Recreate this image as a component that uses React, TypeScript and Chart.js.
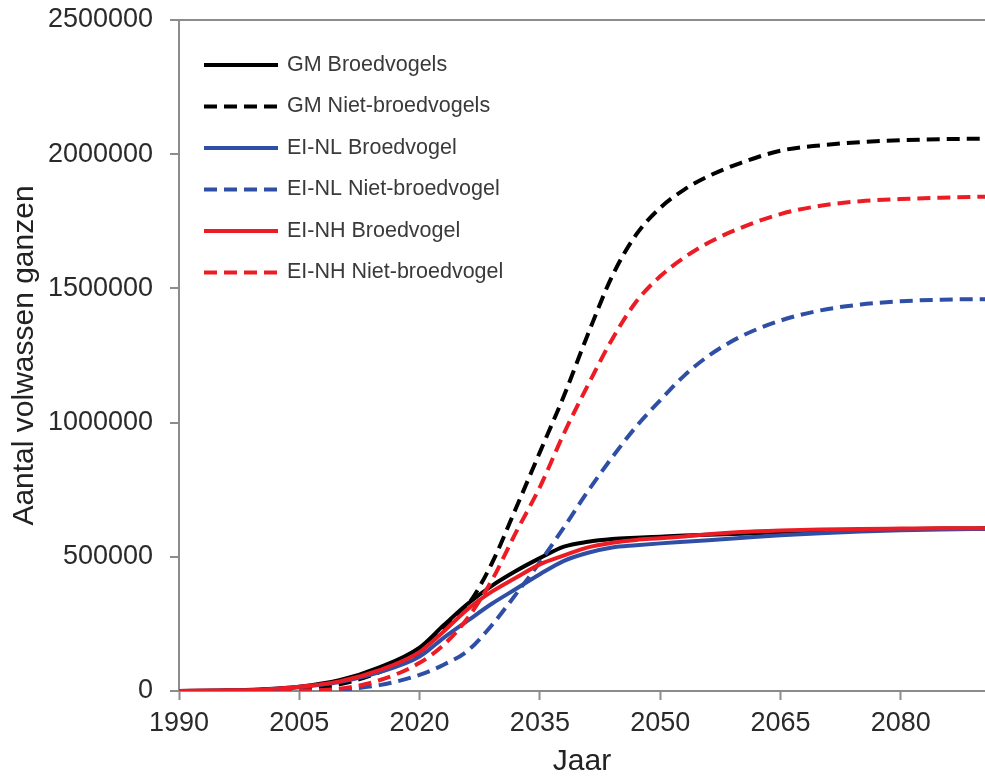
import React, { useEffect, useRef } from "react";
import { Chart, registerables } from "chart.js";

Chart.register(...registerables);

// Years at which the population model values are given
const YEARS = [1990, 1995, 2000, 2005, 2010, 2015, 2020, 2023, 2026, 2029, 2032, 2035, 2038, 2041, 2044, 2047, 2050, 2053, 2056, 2060, 2065, 2070, 2075, 2080, 2085, 2091];

// Number of adult geese per scenario
const GM_BROED = [0, 2000, 6000, 16000, 40000, 88000, 162000, 245000, 325000, 392000, 447000, 495000, 538000, 556000, 566000, 571000, 575000, 579000, 582000, 586000, 591000, 596000, 600000, 603000, 605000, 606000];
const GM_NIET = [0, 0, 2000, 8000, 25000, 70000, 145000, 235000, 320000, 475000, 680000, 890000, 1100000, 1330000, 1545000, 1700000, 1800000, 1868000, 1918000, 1967000, 2013000, 2033000, 2045000, 2052000, 2056000, 2058000];
const NL_BROED = [0, 1000, 4000, 14000, 33000, 70000, 128000, 198000, 262000, 325000, 380000, 435000, 485000, 515000, 535000, 543000, 550000, 556000, 562000, 570000, 580000, 588000, 594000, 599000, 602000, 604000];
const NL_NIET = [0, 0, 0, 0, 5000, 22000, 60000, 98000, 150000, 245000, 360000, 480000, 610000, 745000, 870000, 985000, 1083000, 1175000, 1248000, 1320000, 1380000, 1418000, 1440000, 1452000, 1458000, 1460000];
const NH_BROED = [0, 2000, 5000, 16000, 36000, 78000, 145000, 222000, 305000, 370000, 422000, 472000, 505000, 535000, 552000, 563000, 569000, 576000, 584000, 592000, 598000, 602000, 604000, 605000, 606000, 606000];
const NH_NIET = [0, 0, 0, 2000, 8000, 40000, 105000, 172000, 272000, 412000, 590000, 760000, 960000, 1140000, 1310000, 1450000, 1545000, 1615000, 1670000, 1725000, 1777000, 1808000, 1825000, 1833000, 1838000, 1842000];

const SERIES_LABELS = [
  "GM Broedvogels",
  "GM Niet-broedvogels",
  "EI-NL Broedvogel",
  "EI-NL Niet-broedvogel",
  "EI-NH Broedvogel",
  "EI-NH Niet-broedvogel",
];

const X_TICKS = [1990, 2005, 2020, 2035, 2050, 2065, 2080];
const Y_TICKS = [0, 500000, 1000000, 1500000, 2000000, 2500000];

const FONT = '"Liberation Sans", Arial, sans-serif';
const BLACK = "#000000";
const BLUE = "#2f4fa6";
const RED = "#ec1c24";
const AXIS_GREY = "#8c8c8c";
const DASH = [13, 7];

const toPoints = (vals: number[]) => vals.map((v, i) => ({ x: YEARS[i], y: v }));

// Legend drawn as a column of line samples in the upper-left of the plot
const lineLegend = {
  id: "lineLegend",
  afterDraw(chart: any) {
    const { ctx, chartArea } = chart;
    ctx.save();
    chart.data.datasets.forEach((ds: any, i: number) => {
      const y = chartArea.top + 45 + i * 41.5;
      const x0 = chartArea.left + 25;
      ctx.beginPath();
      ctx.strokeStyle = ds.borderColor;
      ctx.lineWidth = ds.borderWidth;
      ctx.setLineDash(ds.borderDash || []);
      ctx.moveTo(x0, y);
      ctx.lineTo(x0 + 74, y);
      ctx.stroke();
      ctx.setLineDash([]);
      ctx.fillStyle = "#3a3a3a";
      ctx.font = `21.5px ${FONT}`;
      ctx.textBaseline = "middle";
      ctx.textAlign = "left";
      ctx.fillText(ds.label, x0 + 83, y);
    });
    ctx.restore();
  },
};

export default function App() {
  const canvasRef = useRef<HTMLCanvasElement | null>(null);

  useEffect(() => {
    if (!canvasRef.current) return;
    const seriesValues = [GM_BROED, GM_NIET, NL_BROED, NL_NIET, NH_BROED, NH_NIET];
    const colors = [BLACK, BLACK, BLUE, BLUE, RED, RED];
    const datasets = seriesValues.map((vals, i) => ({
      label: SERIES_LABELS[i],
      data: toPoints(vals),
      borderColor: colors[i],
      backgroundColor: colors[i],
      borderWidth: 4,
      borderDash: i % 2 === 1 ? DASH : [],
      pointRadius: 0,
      fill: false,
      cubicInterpolationMode: "monotone" as const,
      order: 5 - i,
    }));

    const chart = new Chart(canvasRef.current, {
      type: "line",
      data: { datasets },
      plugins: [lineLegend],
      options: {
        animation: false,
        responsive: false,
        devicePixelRatio: 1,
        layout: { padding: { top: 20, right: 0, left: 0, bottom: 0 } },
        plugins: {
          legend: { display: false },
          tooltip: { enabled: false },
        },
        scales: {
          x: {
            type: "linear",
            min: 1990,
            max: 2090.5,
            afterBuildTicks: (s: any) => {
              s.ticks = X_TICKS.map((v) => ({ value: v }));
            },
            afterFit: (s: any) => {
              s.height = 89;
            },
            border: { display: true, color: AXIS_GREY, width: 2 },
            grid: {
              drawOnChartArea: false,
              drawTicks: true,
              tickLength: 9,
              tickColor: AXIS_GREY,
              tickWidth: 2,
            },
            ticks: {
              autoSkip: false,
              maxRotation: 0,
              padding: 7,
              color: "#2a2a2a",
              font: { family: FONT, size: 27 },
              callback: (v: any) => String(v),
            },
            title: {
              display: true,
              text: "Jaar",
              color: "#222222",
              font: { family: FONT, size: 30 },
              padding: { top: 0, bottom: 0 },
            },
          },
          y: {
            type: "linear",
            min: 0,
            max: 2500000,
            afterBuildTicks: (s: any) => {
              s.ticks = Y_TICKS.map((v) => ({ value: v }));
            },
            afterFit: (s: any) => {
              s.width = 179;
              s.paddingTop = 0;
              s.paddingBottom = 0;
            },
            border: { display: true, color: AXIS_GREY, width: 2 },
            grid: {
              drawOnChartArea: true,
              drawTicks: true,
              tickLength: 9,
              tickWidth: 2,
              tickColor: AXIS_GREY,
              lineWidth: 2,
              color: (c: any) => (c.tick && c.tick.value === 2500000 ? AXIS_GREY : "rgba(0,0,0,0)"),
            },
            ticks: {
              padding: 17,
              color: "#2a2a2a",
              font: { family: FONT, size: 27 },
              callback: (v: any) => String(v),
            },
            title: {
              display: true,
              text: "Aantal volwassen ganzen",
              color: "#222222",
              font: { family: FONT, size: 30 },
              padding: { top: 7, bottom: 0 },
            },
          },
        },
      },
    });
    return () => chart.destroy();
  }, []);

  return (
    <div style={{ position: "fixed", left: 0, top: 0, width: 985, height: 780, background: "#ffffff" }}>
      <canvas ref={canvasRef} width={985} height={780} style={{ display: "block" }} />
    </div>
  );
}
